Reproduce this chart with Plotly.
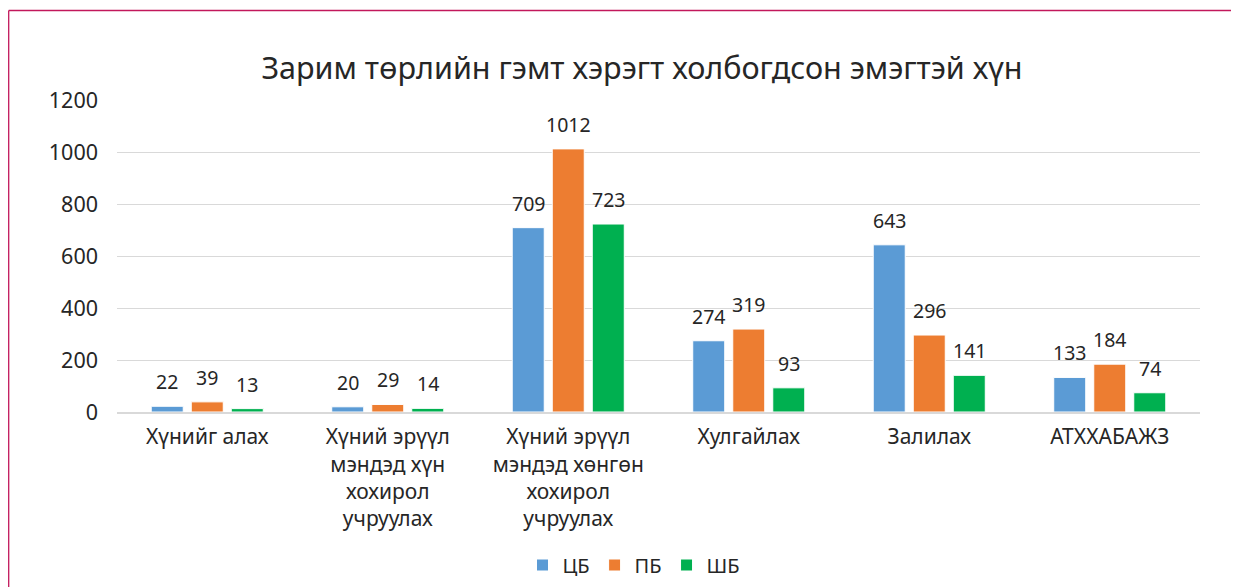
import plotly.graph_objects as go

categories = [
    "Хүнийг алах",
    "Хүний эрүүл<br>мэндэд хүн<br>хохирол<br>учруулах",
    "Хүний эрүүл<br>мэндэд хөнгөн<br>хохирол<br>учруулах",
    "Хулгайлах",
    "Залилах",
    "АТХХАБАЖЗ",
]
series_names = ["ЦБ", "ПБ", "ШБ"]
cb = [22, 20, 709, 274, 643, 133]
pb = [39, 29, 1012, 319, 296, 184]
shb = [13, 14, 723, 93, 141, 74]
colors = ["#5B9BD5", "#ED7D31", "#00B050"]
y_ticks = [0, 200, 400, 600, 800, 1000, 1200]

FONT = "Noto Sans"
TXT = "#262626"

fig = go.Figure()
all_vals = [cb, pb, shb]
for name, vals, col in zip(series_names, all_vals, colors):
    fig.add_trace(go.Bar(
        x=categories, y=vals, name=name,
        marker=dict(color=col, line=dict(color="white", width=1)),
    ))

shifts = [-40, 0, 40]
for vals, xs in zip(all_vals, shifts):
    for c, v in zip(categories, vals):
        fig.add_annotation(x=c, y=v, text=str(v), showarrow=False,
                           xshift=xs, yshift=9, yanchor="bottom",
                           font=dict(family=FONT, size=19.5, color=TXT))

# page has 8px body margin; work in page pixel coordinates
OFF = 8
PW, PH = 1239, 587
W, H = PW - OFF, PH - OFF
pl, pr, pt, pb_ = 117, 1200, 100, 412  # plot area in page px
L = pl - OFF
R = PW - pr
T = pt - OFF
B = PH - pb_
pw = pr - pl
ph = pb_ - pt
def px2x(p):
    return (p - pl) / pw
def py2y(p):
    return (pb_ - p) / ph

border = "#C2185B"
fig.add_shape(type="line", xref="paper", yref="paper",
              x0=px2x(8.7), x1=px2x(8.7), y0=py2y(10.5), y1=py2y(600),
              line=dict(color=border, width=1.3))
fig.add_shape(type="line", xref="paper", yref="paper",
              x0=px2x(8.7), x1=px2x(1250), y0=py2y(10.5), y1=py2y(10.5),
              line=dict(color=border, width=1.3))

fig.update_layout(
    width=W, height=H,
    margin=dict(l=L, r=R, t=T, b=B, autoexpand=False),
    paper_bgcolor="white", plot_bgcolor="white",
    barmode="group", bargap=0.335, bargroupgap=0.2,
    title=dict(text="Зарим төрлийн гэмт хэрэгт холбогдсон эмэгтэй хүн",
               x=(642 - OFF) / W, xanchor="center",
               y=1 - (68 - OFF) / H, yanchor="middle",
               font=dict(family=FONT, size=30.5, color=TXT)),
    font=dict(family=FONT, size=21, color=TXT),
    legend=dict(orientation="h", x=px2x(634), xanchor="center",
                y=py2y(565), yanchor="middle",
                font=dict(family=FONT, size=20, color=TXT),
                tracegroupgap=0),
    showlegend=True,
)
fig.update_yaxes(range=[0, 1200], tickvals=y_ticks, showgrid=True,
                 gridcolor="#D9D9D9", gridwidth=1.3, zeroline=False,
                 showline=False, ticks="", ticklabelstandoff=18,
                 automargin=False,
                 tickfont=dict(family=FONT, size=21.5, color=TXT))
fig.update_xaxes(showline=True, linecolor="#D9D9D9", linewidth=2,
                 ticks="", ticklabelstandoff=5, automargin=False,
                 tickfont=dict(family=FONT, size=21, color=TXT))

fig.write_html("out.html")
